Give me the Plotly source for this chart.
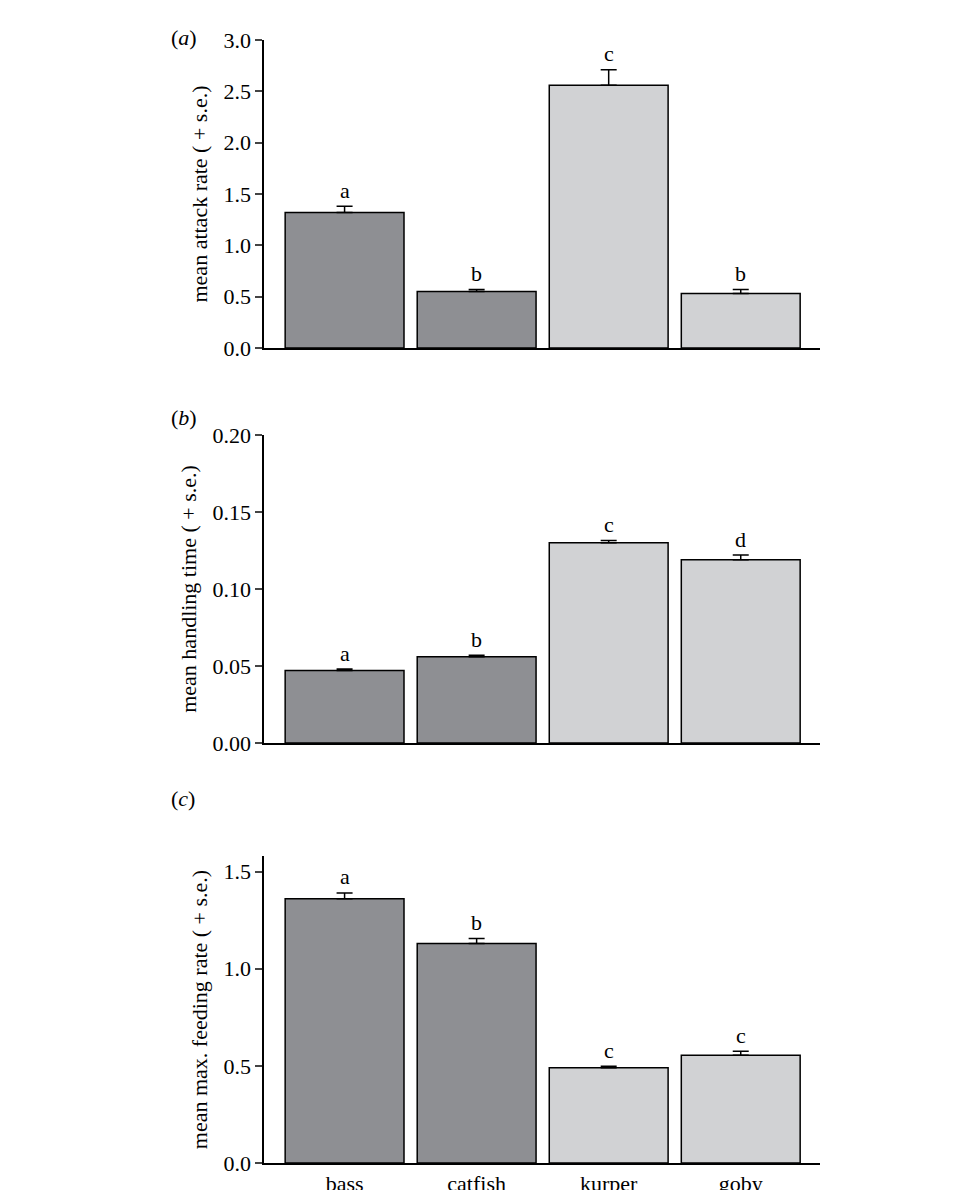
import plotly.graph_objects as go

species = ["bass", "catfish", "kurper", "goby"]
attack = [1.32, 0.55, 2.56, 0.53]
attack_se = [0.06, 0.02, 0.15, 0.04]
attack_lbl = ["a", "b", "c", "b"]
handling = [0.047, 0.056, 0.130, 0.119]
handling_se = [0.001, 0.001, 0.0015, 0.003]
handling_lbl = ["a", "b", "c", "d"]
feeding = [1.36, 1.13, 0.49, 0.555]
feeding_se = [0.03, 0.025, 0.008, 0.02]
feeding_lbl = ["a", "b", "c", "c"]
colors = ["#8e8f93", "#8e8f93", "#d1d2d4", "#d1d2d4"]

fig = go.Figure()
font = dict(family="Liberation Serif", size=22, color="black")
panels = [
    (attack, attack_se, attack_lbl, "mean attack rate ( + s.e.)", [0, 3.0], 0.5, ".1f", [0.7143, 0.9731], "(<i>a</i>)", 0.9874),
    (handling, handling_se, handling_lbl, "mean handling time ( + s.e.)", [0, 0.2], 0.05, ".2f", [0.3824, 0.6412], "(<i>b</i>)", 0.6555),
    (feeding, feeding_se, feeding_lbl, "mean max. feeding rate ( + s.e.)", [0, 1.58], 0.5, ".1f", [0.0294, 0.2874], "(<i>c</i>)", 0.3235),
]
layout = {}
for i, (vals, se, lbl, title, rng, dt, fmt, dom, ptxt, py) in enumerate(panels):
    n = "" if i == 0 else str(i + 1)
    fig.add_trace(go.Bar(x=species, y=vals, marker=dict(color=colors, line=dict(color="black", width=1.5)),
                         error_y=dict(type="data", array=se, arrayminus=[0]*4, symmetric=False,
                                      color="black", thickness=1.5, width=8),
                         xaxis="x" + n, yaxis="y" + n, showlegend=False))
    layout["xaxis" + n] = dict(domain=[0.2667, 0.8458], anchor="y" + n, range=[-0.61, 3.6],
                               showline=True, linecolor="black", linewidth=1.5, ticks="",
                               showticklabels=(i == 2), tickfont=font, showgrid=False, automargin=False)
    layout["yaxis" + n] = dict(domain=dom, anchor="x" + n, range=rng, dtick=dt, tickformat=fmt,
                               showline=True, linecolor="black", linewidth=1.5, ticks="outside",
                               ticklen=7, tickwidth=1.5, tickfont=font, showgrid=False, zeroline=False,
                               automargin=False, title=dict(text=title, font=font, standoff=10))
    for s, v, e, t in zip(species, vals, se, lbl):
        fig.add_annotation(x=s, y=v + e, text=t, showarrow=False, yshift=16, font=font,
                           xref="x" + n, yref="y" + n)
    fig.add_annotation(x=0.168, y=py, xref="paper", yref="paper", text=ptxt,
                       showarrow=False, font=font)
fig.update_layout(width=960, height=1190, margin=dict(l=0, r=0, t=0, b=0, autoexpand=False),
                  plot_bgcolor="white", paper_bgcolor="white", bargap=0.1, font=font, **layout)
fig.write_html("out.html")
